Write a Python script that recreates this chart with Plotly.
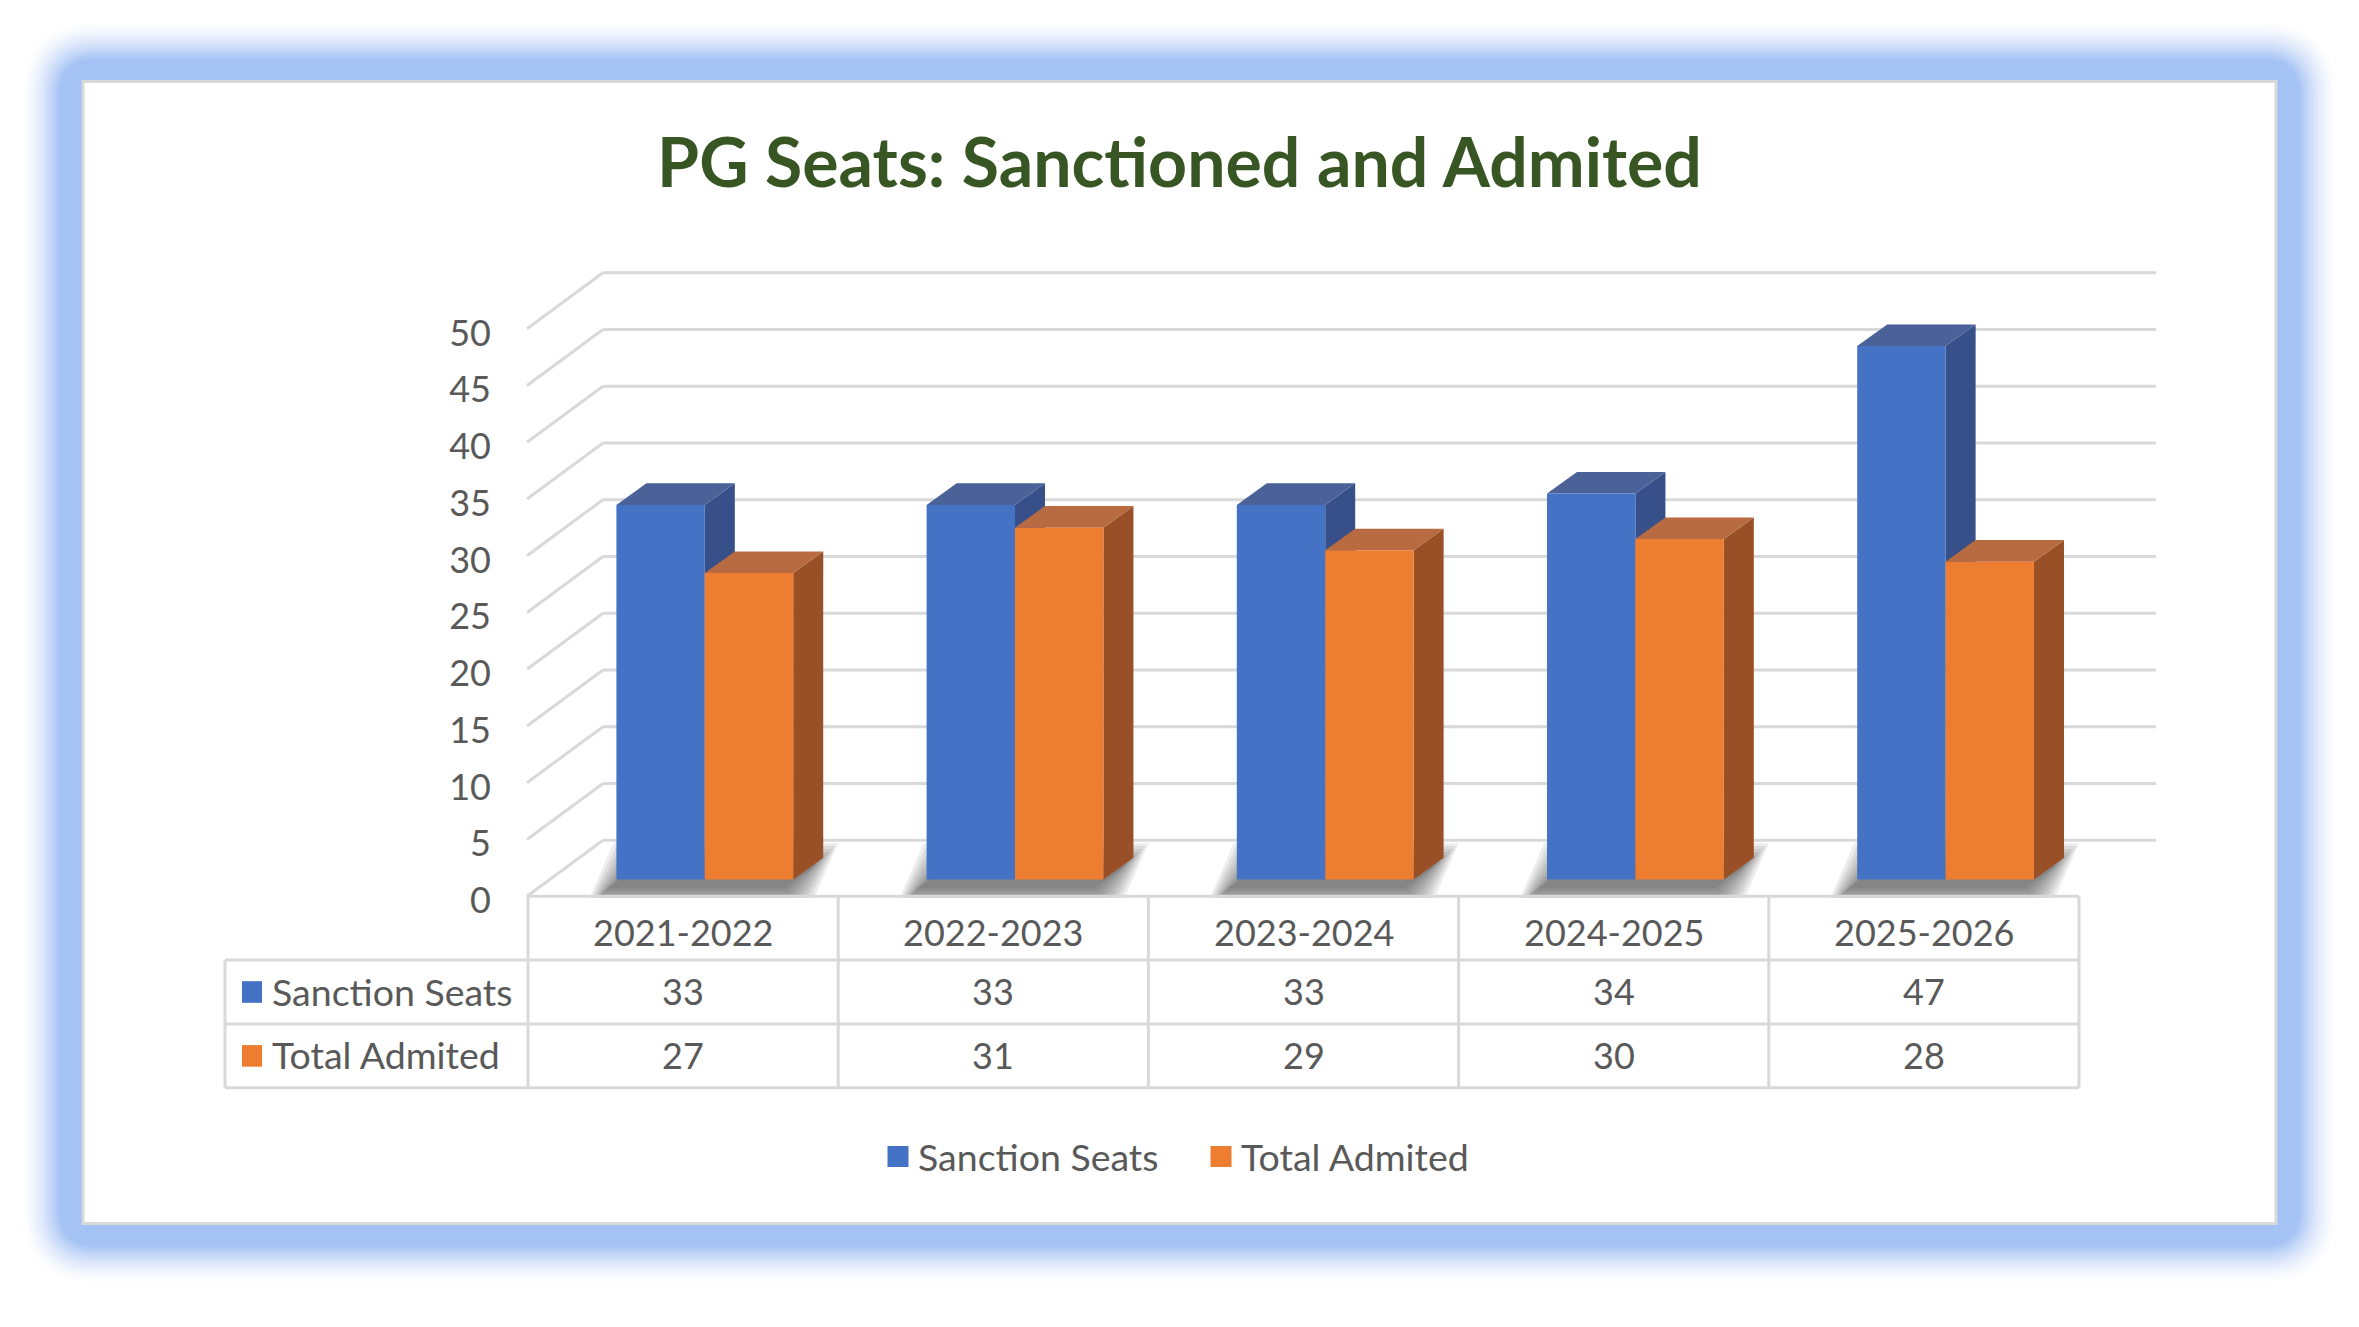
import plotly.graph_objects as go

years = ["2021-2022", "2022-2023", "2023-2024", "2024-2025", "2025-2026"]
sanction_seats = [33, 33, 33, 34, 47]
total_admited = [27, 31, 29, 30, 28]
series_names = ["Sanction Seats", "Total Admited"]
y_ticks = [0, 5, 10, 15, 20, 25, 30, 35, 40, 45, 50]

W, H = 2359, 1327
FONT = "Lato"
TEXT = "#595959"
GRID = "#d9d9d9"
BLUE = "#4472C4"
ORANGE = "#ED7D31"
BLUE_TOP, BLUE_SIDE = "#4a6298", "#37508a"
ORANGE_TOP, ORANGE_SIDE = "#b86a40", "#9a5026"
NUM_SIZE = 36
LABEL_SIZE = 37.5


def px(x):
    return x / W


def py(y):
    return 1 - y / H


# pixel geometry of the plot (front face of bars)
X_LEFT, X_RIGHT = 528, 2079
BASE_PX = 895
UNIT_PX = 11.55
CAT_PX = (X_RIGHT - X_LEFT) / len(years)
Y_MIN, Y_MAX = -1.6, 55

# depth offsets: bars and floor
DX = 30 / CAT_PX
DY = 22 / UNIT_PX
FLOOR_DX = 76
FRONT_SHIFT = 17 / UNIT_PX
BACK_SHIFT = 40 / UNIT_PX

BAR_W = 0.285
offsets = [-0.215, 0.07]

fig = go.Figure()

shapes = []


def rounded(x0, y0, x1, y1, r):
    return (f"M{px(x0 + r)},{py(y0)} L{px(x1 - r)},{py(y0)} "
            f"Q{px(x1)},{py(y0)} {px(x1)},{py(y0 + r)} L{px(x1)},{py(y1 - r)} "
            f"Q{px(x1)},{py(y1)} {px(x1 - r)},{py(y1)} L{px(x0 + r)},{py(y1)} "
            f"Q{px(x0)},{py(y1)} {px(x0)},{py(y1 - r)} L{px(x0)},{py(y0 + r)} "
            f"Q{px(x0)},{py(y0)} {px(x0 + r)},{py(y0)} Z")


# blue glow round the panel
for off in range(64, 0, -3):
    f = max(0.0, min(1.0, (64 - off) / 40)) ** 1.6
    c = tuple(round(255 + (t - 255) * f) for t in (164, 194, 244))
    shapes.append(dict(type="path", xref="paper", yref="paper", layer="below",
                       path=rounded(83 - off, 83 - off, 2276 + off, 1245 + off, off + 14),
                       fillcolor=f"rgb{c}", line=dict(width=0)))

shapes.append(dict(type="rect", xref="paper", yref="paper", layer="below",
                   x0=px(83), x1=px(2276), y0=py(83), y1=py(1245),
                   fillcolor="white", line=dict(color=GRID, width=3)))

# back wall grid and side wall lines
for v in y_ticks:
    shapes.append(dict(type="line", xref="paper", yref="y", layer="below",
                       x0=px(X_LEFT - 1 + FLOOR_DX), x1=px(2156),
                       y0=v + BACK_SHIFT, y1=v + BACK_SHIFT,
                       line=dict(color=GRID, width=3)))
    shapes.append(dict(type="line", xref="paper", yref="y", layer="below",
                       x0=px(X_LEFT - 1), x1=px(X_LEFT - 1 + FLOOR_DX),
                       y0=v - FRONT_SHIFT, y1=v + BACK_SHIFT,
                       line=dict(color=GRID, width=3)))

# soft shadow under each group: blurred copy of the footprint
ux, uy = 1 / CAT_PX, 1 / UNIT_PX
for i in range(len(years)):
    xl = i + offsets[0] - 9 * ux
    xr = i + offsets[1] + BAR_W - 9 * ux
    for e in range(24, -1, -3):
        s = -9 * uy
        path = (f"M{xl - e * ux},{s - e * uy} L{xr + e * ux},{s - e * uy} "
                f"L{xr + DX + e * ux},{s + DY + e * uy} L{xl + DX - e * ux},{s + DY + e * uy} Z")
        shapes.append(dict(type="path", xref="x", yref="y", layer="below", path=path,
                           fillcolor="rgba(30,30,30,0.08)", line=dict(width=0)))

# 3d faces of the columns
for vals, off, top_c, side_c in [(sanction_seats, offsets[0], BLUE_TOP, BLUE_SIDE),
                                 (total_admited, offsets[1], ORANGE_TOP, ORANGE_SIDE)]:
    for i, v in enumerate(vals):
        xl = i + off
        xr = xl + BAR_W
        shapes.append(dict(type="path", xref="x", yref="y", layer="below",
                           path=f"M{xr},0 L{xr},{v} L{xr + DX},{v + DY} L{xr + DX},{DY} Z",
                           fillcolor=side_c, line=dict(width=0)))
        shapes.append(dict(type="path", xref="x", yref="y", layer="below",
                           path=f"M{xl},{v} L{xr},{v} L{xr + DX},{v + DY} L{xl + DX},{v + DY} Z",
                           fillcolor=top_c, line=dict(width=0)))

fig.add_trace(go.Bar(x=list(range(len(years))), y=sanction_seats, name=series_names[0],
                     offset=offsets[0], width=BAR_W, showlegend=False,
                     marker=dict(color=BLUE, line=dict(width=0))))
fig.add_trace(go.Bar(x=list(range(len(years))), y=total_admited, name=series_names[1],
                     offset=offsets[1], width=BAR_W, showlegend=False,
                     marker=dict(color=ORANGE, line=dict(width=0))))
# legend keys with larger squares
for name, col in zip(series_names, [BLUE, ORANGE]):
    fig.add_trace(go.Scatter(x=[None], y=[None], mode="markers", name=name,
                             marker=dict(symbol="square", size=16, color=col,
                                         line=dict(color=col, width=5))))

# data table under the chart
ROWS = [912, 977, 1042, 1107]
LABEL_LEFT = 225
col_lines = [X_LEFT + CAT_PX * k for k in range(len(years) + 1)]
shapes.append(dict(type="line", xref="paper", yref="paper", x0=px(X_LEFT), x1=px(X_RIGHT),
                   y0=py(ROWS[0]), y1=py(ROWS[0]), line=dict(color=GRID, width=3)))
for r in ROWS[1:]:
    shapes.append(dict(type="line", xref="paper", yref="paper", x0=px(LABEL_LEFT), x1=px(X_RIGHT),
                       y0=py(r), y1=py(r), line=dict(color=GRID, width=3)))
for c in col_lines:
    shapes.append(dict(type="line", xref="paper", yref="paper", x0=px(c), x1=px(c),
                       y0=py(ROWS[0]), y1=py(ROWS[-1]), line=dict(color=GRID, width=3)))
shapes.append(dict(type="line", xref="paper", yref="paper", x0=px(LABEL_LEFT), x1=px(LABEL_LEFT),
                   y0=py(ROWS[1]), y1=py(ROWS[-1]), line=dict(color=GRID, width=3)))

annotations = []
num_font = dict(family=FONT, size=NUM_SIZE, color=TEXT)
lab_font = dict(family=FONT, size=LABEL_SIZE, color=TEXT)
for i, yr in enumerate(years):
    annotations.append(dict(x=i, xref="x", y=py((ROWS[0] + ROWS[1]) / 2 + 4), yref="paper",
                            yanchor="middle", text=yr, showarrow=False, font=num_font))
for r, (name, vals, col) in enumerate([(series_names[0], sanction_seats, BLUE),
                                       (series_names[1], total_admited, ORANGE)]):
    yc = (ROWS[r + 1] + ROWS[r + 2]) / 2
    for i, v in enumerate(vals):
        annotations.append(dict(x=i, xref="x", y=py(yc - 1), yref="paper", yanchor="middle",
                                text=str(v), showarrow=False, font=num_font))
    annotations.append(dict(x=px(270), xref="paper", y=py(yc - 1), yref="paper", xanchor="left",
                            yanchor="middle", text=name, showarrow=False, font=lab_font))
    shapes.append(dict(type="rect", xref="paper", yref="paper",
                       x0=px(242), x1=px(262), y0=py(yc - 11), y1=py(yc + 11),
                       fillcolor=col, line=dict(width=0)))

fig.update_layout(
    width=W, height=H,
    margin=dict(l=0, r=0, t=0, b=0),
    paper_bgcolor="white",
    plot_bgcolor="rgba(0,0,0,0)",
    barmode="overlay",
    font=dict(family=FONT, color=TEXT, size=NUM_SIZE),
    title=dict(text="<b>PG Seats: Sanctioned and Admited</b>", x=0.5, xanchor="center",
               y=py(163), yanchor="middle",
               font=dict(family=FONT, size=68, color="#375623")),
    xaxis=dict(domain=[px(X_LEFT), px(X_RIGHT)], range=[-0.5, len(years) - 0.5],
               showgrid=False, zeroline=False, showline=False, showticklabels=False),
    yaxis=dict(domain=[py(BASE_PX - Y_MIN * UNIT_PX), py(BASE_PX - Y_MAX * UNIT_PX)],
               range=[Y_MIN, Y_MAX], tickvals=y_ticks, showgrid=False, zeroline=False,
               showline=False, ticks="", ticklabelshift=21, ticklabelstandoff=36,
               tickfont=dict(family=FONT, size=NUM_SIZE, color=TEXT)),
    legend=dict(orientation="h", x=px(878), xanchor="left", y=py(1177), yanchor="middle",
                entrywidth=278, entrywidthmode="pixels",
                font=dict(family=FONT, size=LABEL_SIZE, color=TEXT), bgcolor="rgba(0,0,0,0)"),
    shapes=shapes,
    annotations=annotations,
)

# no page margin / scrollbars, hide the modebar
page_fix = """
document.documentElement.style.margin='0';
document.body.style.margin='0';
document.documentElement.style.overflow='hidden';
document.body.style.overflow='hidden';
var mb=document.querySelector('.modebar-container'); if(mb){mb.style.display='none';}
"""
fig.write_html("out.html", post_script=page_fix)
